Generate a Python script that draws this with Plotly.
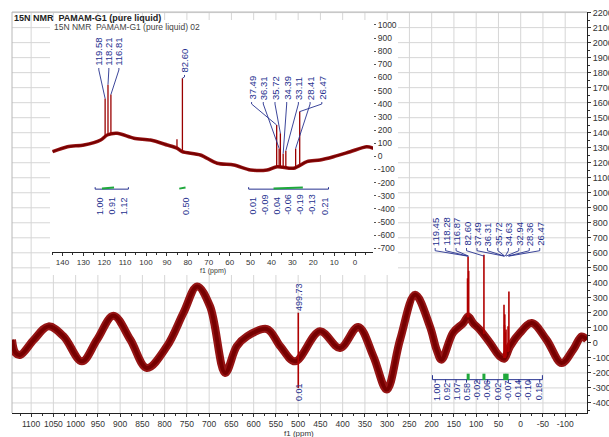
import plotly.graph_objects as go

# ================= DATA =================
# --- main (full-range) 15N spectrum: rolling baseline ---
main_ppm = [1143, 1135, 1124, 1094, 1061, 1027, 986, 952, 915, 877,
            840, 795, 758, 727, 698, 664, 638, 615, 570, 540,
            507, 451, 406, 365, 331, 301, 271, 237, 204, 189,
            178, 152, 129, 118, 107, 92, 69, 47, 37, 24,
            2, -25, -58, -92, -118, -137, -149]
main_val = [21, -67, -79, 21, 110, 43, -123, 21, 181, 21,
            -167, -23, 199, 376, 243, -200, -23, 43, 92, -23,
            -123, 77, -34, 106, -90, -311, 21, 320, 110, -45,
            -112, 68, 132, 176, 132, 88, 0, -90, -105, -23,
            66, 132, 21, -134, -45, 43, 21]

main_peak_labels = ["119.45", "118.28", "116.87", "82.60", "37.49", "36.31",
                    "35.72", "34.63", "32.94", "28.36", "26.47"]
main_peak_top = [430, 575, 480, 587, 254, 120, 190, 70, 90, 110, 343]
main_peak_base = [170, 176, 170, 60, -100, -100, -100, -100, -90, -60, -55]
main_int_labels = ["1.00", "0.92", "1.07", "0.58", "-0.02", "-0.06", "0.02",
                   "-0.07", "-0.14", "-0.10", "0.18"]
main_int_marks = [118.0, 82.6, 36.0, 30.5]

spike_label = "499.73"
spike_top = 201
spike_bottom = -300
spike_int_label = "0.01"

# --- inset (expanded 0-140 ppm) spectrum ---
inset_ppm = [144.7, 137.6, 129.7, 121.7, 118.6, 113.8, 105.8, 97.9, 89.9, 85.0,
             82.7, 74.0, 66.0, 58.0, 50.0, 42.0, 37.3, 29.4, 23.0, 16.7,
             10.3, 2.3, -5.6, -8.8]
inset_val = [35, 73, 86, 124, 162, 175, 137, 124, 86, 60,
             35, 10, -53, -66, -104, -104, -79, -91, -41, -28,
             -3, 35, 73, 61]
inset_peak_ppm = [119.58, 118.21, 116.81, 85.2, 82.60, 37.49, 36.31, 35.72,
                  34.39, 33.11, 28.41, 26.47]
inset_peak_top = [440, 545, 470, 130, 594, 238, 60, 175, 20, 43, 60, 340]
inset_peak_base = [150, 165, 170, 60, 30, -80, -80, -80, -85, -85, -80, -70]

inset_label_groups = [["119.58", "118.21", "116.81"],
                      ["82.60"],
                      ["37.49", "36.31", "35.72", "34.39", "33.11", "28.41", "26.47"]]
inset_int_groups = [["1.00", "0.91", "1.12"],
                    ["0.50"],
                    ["0.01", "-0.09", "0.04", "-0.06", "-0.19", "-0.13", "0.21"]]

main_x_ticks = list(range(1100, -101, -50))
main_y_ticks = list(range(-400, 2201, 100))
inset_x_ticks = list(range(140, -1, -10))
inset_y_ticks = list(range(-700, 1001, 100))

title_main = "15N NMR  PAMAM-G1 (pure liquid)"
title_inset = "15N NMR  PAMAM-G1 (pure liquid) 02"
axis_title = "f1 (ppm)"

# ================= STYLE =================
FONT = "Liberation Sans, Arial, sans-serif"
RED = "#760000"
RED_HALO = "#961515"
BLUE = "#26318f"
GREEN = "#1fa83c"
GRID = "#d6d6d6"
W, H = 609, 437
ML, MR, MT, MB = 12, 22, 12, 24

fig = go.Figure()

# ---- main spectrum ----
fig.add_trace(go.Scatter(x=main_ppm, y=main_val, mode="lines",
                         line=dict(color=RED_HALO, width=8, shape="spline", smoothing=1.0),
                         xaxis="x", yaxis="y", hoverinfo="skip"))
fig.add_trace(go.Scatter(x=main_ppm, y=main_val, mode="lines",
                         line=dict(color=RED, width=4, shape="spline", smoothing=1.0),
                         xaxis="x", yaxis="y", hoverinfo="skip"))
sx, sy = [], []
for lab, t, b in zip(main_peak_labels, main_peak_top, main_peak_base):
    p = float(lab)
    sx += [p, p, None]
    sy += [b, t, None]
sx += [float(spike_label), float(spike_label), None]
sy += [spike_bottom, spike_top, None]
fig.add_trace(go.Scatter(x=sx, y=sy, mode="lines", line=dict(color="#b00000", width=1.6),
                         xaxis="x", yaxis="y", hoverinfo="skip"))

# main peak-label connectors (converge just above the peak clusters)
n = len(main_peak_labels)
lab_center, lab_step = 74.7, 23.5
lab_x = [lab_center + (n - 1) / 2 * lab_step - i * lab_step for i in range(n)]
cx, cy = [], []
for lx, lab, t in zip(lab_x, main_peak_labels, main_peak_top):
    p = float(lab)
    cx += [lx, lx, p, None]
    cy += [632, 614, 578, None]
fig.add_trace(go.Scatter(x=cx, y=cy, mode="lines", line=dict(color=BLUE, width=0.9),
                         xaxis="x", yaxis="y", hoverinfo="skip"))

# main integral bracket
ix = [lab_x[0] + 6, lab_x[0] + 6, lab_x[-1] - 6, lab_x[-1] - 6, None]
iy = [-215, -245, -245, -215, None]
for lx in lab_x:
    ix += [lx, lx, None]
    iy += [-245, -265, None]
fig.add_trace(go.Scatter(x=ix, y=iy, mode="lines", line=dict(color=BLUE, width=1),
                         xaxis="x", yaxis="y", hoverinfo="skip"))
gx, gy = [], []
for m in main_int_marks:
    gx += [m, m, None]
    gy += [-248, -205, None]
fig.add_trace(go.Scatter(x=gx, y=gy, mode="lines", line=dict(color=GREEN, width=3),
                         xaxis="x", yaxis="y", hoverinfo="skip"))

# ---- inset spectrum ----
fig.add_trace(go.Scatter(x=inset_ppm, y=inset_val, mode="lines",
                         line=dict(color=RED_HALO, width=3.5, shape="spline", smoothing=0.8),
                         xaxis="x2", yaxis="y2", hoverinfo="skip"))
fig.add_trace(go.Scatter(x=inset_ppm, y=inset_val, mode="lines",
                         line=dict(color=RED, width=1.8, shape="spline", smoothing=0.8),
                         xaxis="x2", yaxis="y2", hoverinfo="skip"))
sx, sy = [], []
for p, t, b in zip(inset_peak_ppm, inset_peak_top, inset_peak_base):
    sx += [p, p, None]
    sy += [b, t, None]
fig.add_trace(go.Scatter(x=sx, y=sy, mode="lines", line=dict(color="#9a0000", width=1.3),
                         xaxis="x2", yaxis="y2", hoverinfo="skip"))

inset_lab_cfg = [(117.8, 4.8, 672, 560), (81.6, 0, 619, 600), (32.7, 5.6, 413, 350)]
inset_int_cfg = [(116.4, 5.95), (81.2, 0), (31.8, 5.7)]
top_of = dict(zip(inset_peak_ppm, inset_peak_top))
annotations = []
cx, cy = [], []
ibx, iby, igx, igy = [], [], [], []
for grp, (cen, step, ybot, yknee), igrp, (icen, istep) in zip(
        inset_label_groups, inset_lab_cfg, inset_int_groups, inset_int_cfg):
    k = len(grp)
    for i, lab in enumerate(grp):
        lx = cen + (k - 1) / 2 * step - i * step
        p = float(lab)
        t = top_of.get(p, yknee)
        cx += [lx, lx, p, p, None]
        cy += [ybot, ybot - 15, min(yknee, t), t, None]
        annotations.append(dict(x=lx, y=ybot, xref="x2", yref="y2", text=lab,
                                textangle=-90, showarrow=False, xanchor="center",
                                yanchor="bottom", font=dict(size=9.5, color=BLUE, family=FONT)))
    k2 = len(igrp)
    xs = [icen + (k2 - 1) / 2 * istep - i * istep for i in range(k2)]
    for lx, lab in zip(xs, igrp):
        annotations.append(dict(x=lx, y=-460, xref="x2", yref="y2", text=lab,
                                textangle=-90, showarrow=False, xanchor="center",
                                yanchor="bottom", font=dict(size=9, color=BLUE, family=FONT)))
    if k2 > 1:
        ibx += [xs[0] + 2, xs[0] + 2, xs[-1] - 2, xs[-1] - 2, None]
        iby += [-235, -250, -250, -235, None]
    igx += [float(grp[0]) + 1.5, float(grp[-1]) - 1.5, None]
    igy += [-246, -238, None]
fig.add_trace(go.Scatter(x=cx, y=cy, mode="lines", line=dict(color=BLUE, width=0.9),
                         xaxis="x2", yaxis="y2", hoverinfo="skip"))
fig.add_trace(go.Scatter(x=ibx, y=iby, mode="lines", line=dict(color=BLUE, width=1),
                         xaxis="x2", yaxis="y2", hoverinfo="skip"))
fig.add_trace(go.Scatter(x=igx, y=igy, mode="lines", line=dict(color=GREEN, width=2),
                         xaxis="x2", yaxis="y2", hoverinfo="skip"))

# ---- main text labels ----
for lx, lab in zip(lab_x, main_peak_labels):
    annotations.append(dict(x=lx, y=632, xref="x", yref="y", text=lab, textangle=-90,
                            showarrow=False, xanchor="center", yanchor="bottom",
                            font=dict(size=9.5, color=BLUE, family=FONT)))
ilab_step = 23.0
ilab_x = [lab_center + (n - 1) / 2 * ilab_step - i * ilab_step for i in range(n)]
for lx, lab in zip(ilab_x, main_int_labels):
    annotations.append(dict(x=lx, y=-398, xref="x", yref="y", text=lab, textangle=-90,
                            showarrow=False, xanchor="center", yanchor="bottom",
                            font=dict(size=9, color=BLUE, family=FONT)))
annotations.append(dict(x=float(spike_label), y=spike_top, xref="x", yref="y",
                        text=spike_label, textangle=-90, showarrow=False,
                        xanchor="center", yanchor="bottom",
                        font=dict(size=9, color=BLUE, family=FONT)))
annotations.append(dict(x=float(spike_label), y=-398, xref="x", yref="y",
                        text=spike_int_label, textangle=-90, showarrow=False,
                        xanchor="center", yanchor="bottom",
                        font=dict(size=9, color=BLUE, family=FONT)))

# titles
pw, ph = W - ML - MR, H - MT - MB
def px2paper(px, py):
    return (px - ML) / pw, (H - MB - py) / ph

tx, ty = px2paper(12, 10.5)
annotations.append(dict(x=tx, y=ty, xref="paper", yref="paper", text="<b>" + title_main + "</b>",
                        showarrow=False, xanchor="left", yanchor="top",
                        font=dict(size=9, color="#222", family=FONT)))
tx, ty = px2paper(52, 20)
annotations.append(dict(x=tx, y=ty, xref="paper", yref="paper", text=title_inset,
                        showarrow=False, xanchor="left", yanchor="top",
                        font=dict(size=8.5, color="#444", family=FONT)))
tx, ty = px2paper(299, 433)
annotations.append(dict(x=tx, y=ty, xref="paper", yref="paper", text=axis_title,
                        showarrow=False, xanchor="center", yanchor="middle",
                        font=dict(size=8, color="#333", family=FONT)))
tx, ty = px2paper(213, 271)
annotations.append(dict(x=tx, y=ty, xref="paper", yref="paper", text=axis_title,
                        showarrow=False, xanchor="center", yanchor="middle",
                        font=dict(size=7, color="#333", family=FONT)))

# ---- grid + inset white box (shapes, below traces) ----
shapes = []
for v in main_x_ticks:
    shapes.append(dict(type="line", xref="x", yref="paper", x0=v, x1=v, y0=0, y1=1,
                       line=dict(color=GRID, width=1), layer="below"))
for v in main_y_ticks:
    shapes.append(dict(type="line", xref="paper", yref="y", x0=0, x1=1, y0=v, y1=v,
                       line=dict(color=GRID, width=1), layer="below"))
shapes.append(dict(type="line", xref="paper", yref="paper", x0=0, x1=0, y0=0, y1=1,
                   line=dict(color="#b8b8b8", width=1), layer="below"))
shapes.append(dict(type="line", xref="paper", yref="paper", x0=0, x1=1, y0=1, y1=1,
                   line=dict(color="#b8b8b8", width=1), layer="below"))
bx0, by0 = px2paper(50, 275)
bx1, by1 = px2paper(398, 20)
shapes.append(dict(type="rect", xref="paper", yref="paper", x0=bx0, x1=bx1, y0=by0, y1=by1,
                   fillcolor="white", line=dict(width=0), layer="below"))

ix0, iy0 = px2paper(52, 251.7)
ix1, iy1 = px2paper(373, 22)

fig.update_layout(
    template="none",
    width=W, height=H, margin=dict(l=ML, r=MR, t=MT, b=MB, pad=0, autoexpand=False),
    paper_bgcolor="white", plot_bgcolor="white", showlegend=False,
    font=dict(family=FONT, color="#333"),
    shapes=shapes, annotations=annotations,
    xaxis=dict(domain=[0, 1], range=[1143, -149], anchor="y", automargin=False,
               tickvals=main_x_ticks, ticktext=[str(v) for v in main_x_ticks],
               ticks="outside", ticklen=3, tickcolor="#333", showline=True,
               linecolor="#222", linewidth=1, showgrid=False, zeroline=False,
               tickfont=dict(size=8.5, color="#333"),
               minor=dict(dtick=25, ticks="outside", ticklen=2, tickcolor="#333", showgrid=False)),
    yaxis=dict(domain=[0, 1], range=[-467, 2204], anchor="x", side="right", automargin=False,
               tickvals=main_y_ticks, ticktext=[str(v) for v in main_y_ticks],
               ticks="outside", ticklen=3, tickcolor="#333", showline=True,
               linecolor="#222", linewidth=1, showgrid=False, zeroline=False,
               tickfont=dict(size=9, color="#333"),
               minor=dict(dtick=50, ticks="outside", ticklen=2, tickcolor="#333", showgrid=False)),
    xaxis2=dict(domain=[ix0, ix1], range=[145, -8.6], anchor="y2", automargin=False,
                tickvals=inset_x_ticks, ticktext=[str(v) for v in inset_x_ticks],
                ticks="outside", ticklen=3, tickcolor="#333", showline=True,
                linecolor="#222", linewidth=1, showgrid=False, zeroline=False,
                tickfont=dict(size=8, color="#333"),
                minor=dict(dtick=5, ticks="outside", ticklen=2, tickcolor="#333", showgrid=False)),
    yaxis2=dict(domain=[iy0, iy1], range=[-726, 1022], anchor="x2", side="right",
                automargin=False,
                tickvals=inset_y_ticks, ticktext=[str(v) for v in inset_y_ticks],
                ticks="outside", ticklen=2, tickcolor="#555", showline=False,
                showgrid=False, zeroline=False,
                tickfont=dict(size=8.5, color="#333")),
)

fig.write_html("out.html", config={"displayModeBar": False},
               post_script="document.body.style.margin='0';document.body.style.padding='0';")
